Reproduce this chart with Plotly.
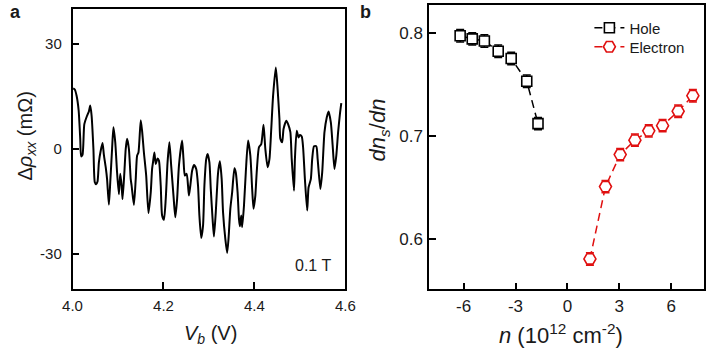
import plotly.graph_objects as go

# ---------------- Panel a data ----------------
vb = [4.0014, 4.005, 4.009, 4.0135, 4.017, 4.019, 4.022, 4.026, 4.032, 4.036,
      4.039, 4.042, 4.046, 4.049, 4.052, 4.055, 4.058, 4.062, 4.066, 4.069,
      4.073, 4.076, 4.080, 4.083, 4.087, 4.090, 4.094, 4.098, 4.102, 4.105,
      4.108, 4.110, 4.114, 4.117, 4.120, 4.124, 4.128, 4.130, 4.135, 4.139,
      4.142, 4.145, 4.150, 4.153, 4.157, 4.162, 4.167, 4.172, 4.175, 4.177,
      4.180, 4.183, 4.187, 4.190, 4.194, 4.197, 4.201, 4.205, 4.209, 4.213,
      4.217, 4.222, 4.226, 4.230, 4.234, 4.241, 4.244, 4.247, 4.251, 4.254,
      4.256, 4.259, 4.263, 4.267, 4.272, 4.276, 4.279, 4.283, 4.287, 4.290,
      4.294, 4.297, 4.301, 4.304, 4.308, 4.311, 4.315, 4.319, 4.321, 4.324,
      4.328, 4.331, 4.336, 4.340, 4.343, 4.347, 4.351, 4.356, 4.359, 4.363,
      4.366, 4.368, 4.371, 4.373, 4.377, 4.381, 4.386, 4.391, 4.395, 4.398,
      4.402, 4.405, 4.410, 4.415, 4.420, 4.424, 4.429, 4.433, 4.437, 4.441,
      4.447, 4.451, 4.455, 4.457, 4.461, 4.464, 4.470, 4.474, 4.479, 4.482,
      4.487, 4.489, 4.493, 4.497, 4.500, 4.504, 4.507, 4.511, 4.516, 4.519,
      4.524, 4.527, 4.531, 4.536, 4.539, 4.545, 4.549, 4.554, 4.559, 4.563,
      4.568, 4.572, 4.576, 4.580, 4.584, 4.588, 4.591]
drho = [17.3, 17.0, 15.2, 11.0, 2.9, -2.1, -1.7, 7.1, 9.5, 10.7,
        12.4, 9.5, 0.0, -9.5, -10.1, -9.3, -3.8, -0.5, 1.7, -1.7,
        -5.2, -8.6, -15.9, -9.5, 0.0, 6.2, 1.9, -6.7, -12.9, -7.1,
        -10.5, -14.3, -6.7, 0.0, 2.9, 0.0, -8.6, -10.5, -16.0, -8.6,
        -1.9, -1.0, 8.2, 5.2, -1.0, -7.6, -18.3, -12.4, -5.7, -3.8,
        -1.0, -4.3, -2.7, -3.3, -10.5, -19.0, -20.2, -14.3, -3.8, 1.9,
        -4.8, -13.3, -19.5, -14.3, -4.8, 2.4, -2.9, -7.6, -7.1, -10.5,
        -13.3, -10.5, -6.2, -4.6, -5.7, -10.5, -19.0, -25.4, -21.9, -10.5,
        -2.9, -1.4, -3.8, -11.4, -20.0, -25.0, -18.1, -8.6, -5.7, -3.5,
        -8.6, -18.1, -25.7, -29.7, -25.7, -17.1, -12.4, -5.5, -6.7, -12.4,
        -20.0, -22.1, -19.0, -22.3, -16.2, -6.7, 2.4, -1.9, -11.4, -17.1,
        -13.3, -6.7, 0.5, 1.4, 6.9, 0.0, -5.2, -2.9, 5.7, 15.2,
        23.3, 17.1, 8.6, 2.9, 1.9, 5.7, 8.1, 7.1, 4.8, -2.9,
        -11.9, -2.9, 5.2, 3.3, 4.0, 3.6, 0.5, -8.6, -17.6, -11.0,
        -8.6, -2.9, 0.8, 0.8, -2.9, -11.4, -6.7, 4.8, 9.0, 10.7,
        7.6, 1.0, -5.7, -1.9, 4.8, 10.0, 13.1]

a_xticks = [4.0, 4.2, 4.4, 4.6]
a_xticklabels = ["4.0", "4.2", "4.4", "4.6"]
a_yticks = [-30, 0, 30]
a_yticklabels = ["-30", "0", "30"]

# ---------------- Panel b data ----------------
hole_n = [-6.2, -5.5, -4.8, -4.0, -3.25, -2.35, -1.7]
hole_d = [0.797, 0.794, 0.792, 0.782, 0.775, 0.753, 0.712]
hole_err = [0.006, 0.006, 0.006, 0.006, 0.006, 0.006, 0.006]

elec_n = [1.3, 2.2, 3.05, 3.9, 4.7, 5.5, 6.4, 7.25]
elec_d = [0.581, 0.651, 0.682, 0.696, 0.705, 0.710, 0.724, 0.739]
elec_err = [0.006, 0.006, 0.006, 0.006, 0.006, 0.006, 0.006, 0.006]

b_xticks = [-6, -3, 0, 3, 6]
b_xticklabels = ["-6", "-3", "0", "3", "6"]
b_yticks = [0.6, 0.7, 0.8]
b_yticklabels = ["0.6", "0.7", "0.8"]

FONT = "Arial, 'Liberation Sans', sans-serif"
RED = "#E01010"
TXT = "#1a1a1a"
W, H = 718, 355

fig = go.Figure()

fig.add_trace(go.Scatter(
    x=vb, y=drho, mode="lines",
    line=dict(color="black", width=2, shape="spline", smoothing=0.6),
    showlegend=False, xaxis="x", yaxis="y"))

fig.add_trace(go.Scatter(
    x=hole_n, y=hole_d, mode="lines+markers", name="Hole", legend="legend",
    line=dict(color="black", width=1.5, dash="8px,5px"),
    marker=dict(symbol="square", size=10, color="white",
                line=dict(color="black", width=1.6)),
    error_y=dict(type="data", array=hole_err, visible=True, color="black",
                 thickness=1.5, width=4),
    xaxis="x2", yaxis="y2"))

fig.add_trace(go.Scatter(
    x=elec_n, y=elec_d, mode="lines+markers", name="Electron", legend="legend2",
    line=dict(color=RED, width=1.5, dash="8px,5px"),
    marker=dict(symbol="hexagon2", size=12, color="white",
                line=dict(color=RED, width=1.6)),
    error_y=dict(type="data", array=elec_err, visible=True, color=RED,
                 thickness=1.5, width=4),
    xaxis="x2", yaxis="y2"))

def axis_common(fs):
    return dict(showline=True, mirror=True, linecolor="black", linewidth=1.5,
                ticks="inside", ticklen=7, tickwidth=1.5, tickcolor="black",
                showgrid=False, zeroline=False,
                tickfont=dict(family=FONT, size=fs, color=TXT))

leg_common = dict(xanchor="left", yanchor="top", bgcolor="rgba(0,0,0,0)",
                  borderwidth=0, font=dict(family=FONT, size=15, color=TXT),
                  tracegroupgap=0, itemwidth=30)

fig.update_layout(
    width=W, height=H,
    margin=dict(l=0, r=0, t=0, b=0),
    paper_bgcolor="white", plot_bgcolor="white",
    font=dict(family=FONT, color=TXT),
    xaxis=dict(domain=[64.3 / W, 345 / W], range=[4.0, 4.6],
               tickmode="array", tickvals=a_xticks, ticktext=a_xticklabels,
               anchor="y", ticklabelstandoff=2, **axis_common(15)),
    yaxis=dict(domain=[1 - 289 / H, 1 - 9 / H], range=[-40, 40],
               tickmode="array", tickvals=a_yticks, ticktext=a_yticklabels,
               anchor="x", ticklabelstandoff=6, **axis_common(15)),
    xaxis2=dict(domain=[431 / W, 714 / W], range=[-8.0, 7.9],
                tickmode="array", tickvals=b_xticks, ticktext=b_xticklabels,
                anchor="y2", ticklabelstandoff=1, **axis_common(17)),
    yaxis2=dict(domain=[1 - 289.3 / H, 1 - 5 / H], range=[0.5516, 0.8268],
                tickmode="array", tickvals=b_yticks, ticktext=b_yticklabels,
                anchor="x2", ticklabelstandoff=1, **axis_common(17)),
    legend=dict(x=596 / W, y=1 - 11.5 / H, **leg_common),
    legend2=dict(x=596 / W, y=1 - 30.5 / H, **leg_common),
    showlegend=True,
)

def ann(text, x, y, size, angle=0, bold=False, yanchor="middle"):
    fig.add_annotation(text=("<b>%s</b>" % text) if bold else text,
                       x=x / W, y=1 - y / H, xref="paper", yref="paper",
                       showarrow=False, textangle=angle,
                       xanchor="center", yanchor=yanchor,
                       font=dict(family=FONT, size=size, color=TXT))

ann("a", 6, 0, 18, bold=True, yanchor="top")
ann("b", 366, 0, 18, bold=True, yanchor="top")
ann("Δ<i>ρ</i><sub><i>xx</i></sub> (mΩ)", 17, 136, 20, angle=-90)
ann("<i>V</i><sub><i>b</i></sub> (V)", 206, 334, 20)
ann("<i>dn</i><sub><i>s</i></sub>/<i>dn</i>", 380, 130, 22, angle=-90)
ann("<i>n</i> (10<sup>12</sup> cm<sup>-2</sup>)", 567, 334, 22)
ann("0.1 T", 312, 265, 16)

fig.write_html("out.html", config={"displayModeBar": False},
               post_script="document.body.style.margin='0';document.body.style.padding='0';")
